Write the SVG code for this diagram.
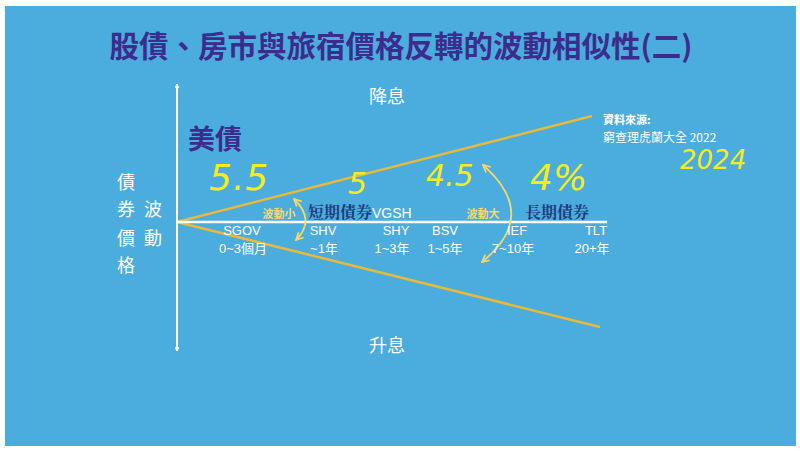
<svg xmlns="http://www.w3.org/2000/svg" width="800" height="451" viewBox="0 0 800 451">
<style>
.w{fill:#fff;font-family:"Noto Sans CJK TC","Noto Sans CJK SC",sans-serif}
.lab{fill:#fff;font-family:"Liberation Sans","Noto Sans CJK TC",sans-serif;font-size:13px;text-anchor:middle}
.hand{fill:#F4EC1C;font-family:"DejaVu Sans",sans-serif;font-style:italic}
.navy{fill:#1E3C7C;font-family:"Noto Serif CJK TC","Noto Sans CJK TC",serif;font-weight:bold;font-size:16px}
.yl{fill:#F6D86A;font-family:"Noto Sans CJK TC",sans-serif;font-weight:bold;font-size:11px;text-anchor:middle}
</style>
<defs>
<marker id="wa" viewBox="0 0 10 10" refX="9" refY="5" markerWidth="5" markerHeight="5" orient="auto-start-reverse" markerUnits="userSpaceOnUse">
<path d="M1,1 L9,5 L1,9" fill="none" stroke="#fff" stroke-width="2"/>
</marker>
<marker id="ya" viewBox="0 0 10 10" refX="9" refY="5" markerWidth="9" markerHeight="9" orient="auto-start-reverse" markerUnits="userSpaceOnUse">
<path d="M1,1 L9,5 L1,9" fill="none" stroke="#F6D86A" stroke-width="1.8"/>
</marker>
</defs>
<rect x="0" y="0" width="800" height="451" fill="#fff"/>
<rect x="5" y="6" width="791" height="440" fill="#4BACDE"/>
<g id="title">
<text x="401" y="57" text-anchor="middle" font-family="Noto Sans CJK TC,sans-serif" font-size="29.5" font-weight="bold" fill="#3D2C8D">股債、房市與旅宿價格反轉的波動相似性(二)</text>
</g>
<g id="connectors">
<line x1="177" y1="222" x2="592" y2="116" stroke="#E9BA3A" stroke-width="2.5"/>
<line x1="177" y1="222" x2="600" y2="327" stroke="#E9BA3A" stroke-width="2.5"/>
<line x1="177" y1="222" x2="607" y2="222" stroke="#fff" stroke-width="2.5"/>
<line x1="177" y1="351" x2="177" y2="84" stroke="#fff" stroke-width="2" marker-start="url(#wa)" marker-end="url(#wa)"/>
<path d="M294,199 Q316,220 296,240" fill="none" stroke="#F6D86A" stroke-width="1.8" marker-start="url(#ya)" marker-end="url(#ya)"/>
<path d="M483,165 Q540,215 482,262" fill="none" stroke="#F6D86A" stroke-width="1.8" marker-start="url(#ya)" marker-end="url(#ya)"/>
</g>
<g id="axis-labels">
<text class="w" x="387" y="103" font-size="18" text-anchor="middle">降息</text>
<text class="w" x="387" y="352" font-size="18" text-anchor="middle">升息</text>
<g font-size="18" text-anchor="middle">
<text class="w" x="126" y="189">債</text>
<text class="w" x="126" y="216">券</text>
<text class="w" x="126" y="245">價</text>
<text class="w" x="126" y="272">格</text>
<text class="w" x="153" y="216">波</text>
<text class="w" x="153" y="245">動</text>
</g>
</g>
<g id="us-bond">
<text x="188" y="149" font-family="Noto Sans CJK TC,sans-serif" font-size="27" font-weight="bold" fill="#3D2C8D">美債</text>
</g>
<g id="source">
<text class="w" x="603" y="124" font-size="11" font-weight="bold">資料來源:</text>
<text class="w" x="603" y="142" font-size="12">窮查理虎蘭大全 2022</text>
</g>
<g id="handwriting">
<text class="hand" x="209" y="190" font-size="36" letter-spacing="1">5.5</text>
<text class="hand" x="348" y="194" font-size="30">5</text>
<text class="hand" x="426" y="186" font-size="30">4.5</text>
<text class="hand" x="530" y="190" font-size="36">4%</text>
<text class="hand" x="680" y="169" font-size="26">2024</text>
</g>
<g id="short-term">
<text class="yl" x="279" y="218">波動小</text>
<text class="navy" x="308" y="218">短期債券<tspan font-family="Liberation Sans,sans-serif" font-weight="normal" font-size="14" fill="#fff">VGSH</tspan></text>
</g>
<g id="long-term">
<text class="yl" x="483" y="218">波動大</text>
<text class="navy" x="525" y="218">長期債券</text>
</g>
<g id="etfs">
<text class="lab" x="242" y="235">SGOV</text>
<text class="lab" x="243" y="253">0~3個月</text>
<text class="lab" x="323" y="235">SHV</text>
<text class="lab" x="324" y="253">~1年</text>
<text class="lab" x="396" y="235">SHY</text>
<text class="lab" x="392" y="253">1~3年</text>
<text class="lab" x="445" y="235">BSV</text>
<text class="lab" x="445" y="253">1~5年</text>
<text class="lab" x="517" y="235">IEF</text>
<text class="lab" x="513" y="253">7~10年</text>
<text class="lab" x="596" y="235">TLT</text>
<text class="lab" x="592" y="253">20+年</text>
</g>
</svg>
